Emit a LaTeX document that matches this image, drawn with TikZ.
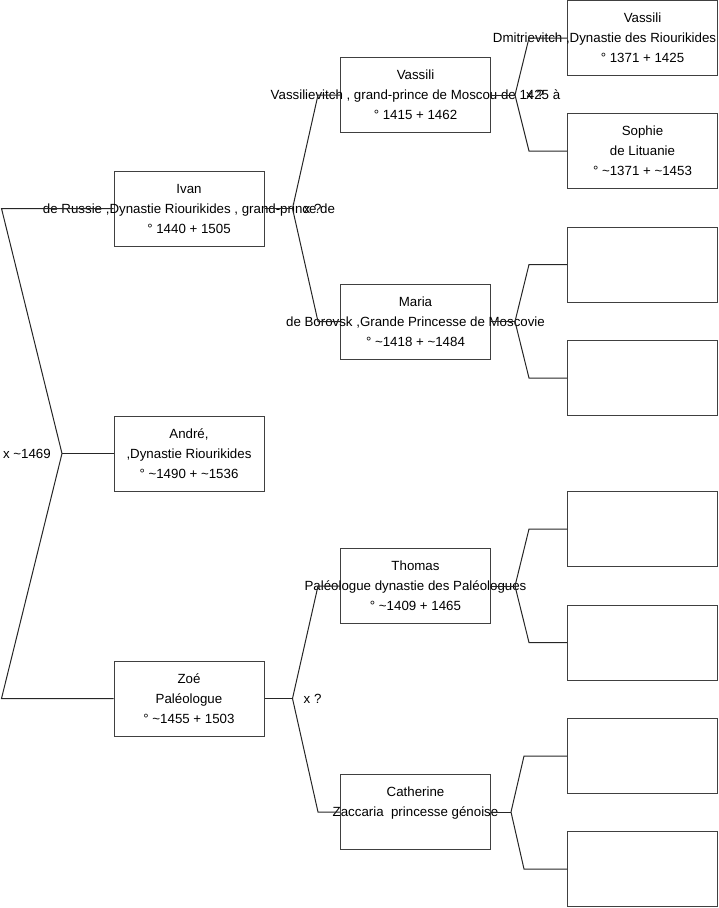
\documentclass[tikz,border=0pt]{standalone}
\usepackage{fontspec}
\setmainfont{Liberation Sans}
\usetikzlibrary{positioning}

\begin{document}
\begin{tikzpicture}[
  x=1pt,y=-1pt,
  every node/.style={font=\fontsize{13.3}{20}\selectfont},
  person/.style={draw=black!75,line width=1pt,minimum width=150pt,
                 minimum height=75pt,inner sep=0pt},
  ptext/.style={align=center,inner sep=0pt},
  link/.style={draw=black!85,line width=1pt},
  union/.style={inner sep=0pt},
]
\useasboundingbox (0,0) rectangle (719,908);

% generation 1: children
\node[person] (ivan)  at (189,208.5) {};
\node[person] (andre) at (189,453.5) {};
\node[person] (zoe)   at (189,698.5) {};
\node[ptext] (ivan-t)  at (ivan)  {Ivan\\de Russie ,Dynastie Riourikides , grand-prince de\\° 1440 + 1505};
\node[ptext] (andre-t) at (andre) {André,\\,Dynastie Riourikides\\° \textasciitilde1490 + \textasciitilde1536};
\node[ptext] (zoe-t)   at (zoe)   {Zoé\\Paléologue\\° \textasciitilde1455 + 1503};

% generation 2: parents
\node[person] (vassili)   at (415.5,95)    {};
\node[person] (maria)     at (415.5,321.5) {};
\node[person] (thomas)    at (415.5,586)   {};
\node[person] (catherine) at (415.5,812)   {};
\node[ptext] (vassili-t)   at (vassili)   {Vassili\\Vassilievitch , grand-prince de Moscou de 1425 à\\° 1415 + 1462};
\node[ptext] (maria-t)     at (maria)     {Maria\\de Borovsk ,Grande Princesse de Moscovie\\° \textasciitilde1418 + \textasciitilde1484};
\node[ptext] (thomas-t)    at (thomas)    {Thomas\\Paléologue dynastie des Paléologues\\° \textasciitilde1409 + 1465};
\node[ptext] (catherine-t) at (catherine) {Catherine\\Zaccaria~~princesse génoise\\\mbox{}};

% generation 3: grandparents
\node[person] (vdmitri)    at (642.5,38)    {};
\node[person] (sophie)     at (642.5,151)   {};
\node[person] (mariaF)     at (642.5,264.5) {};
\node[person] (mariaM)     at (642.5,378)   {};
\node[person] (thomasF)    at (642.5,529)   {};
\node[person] (thomasM)    at (642.5,642.5) {};
\node[person] (catherineF) at (642.5,756)   {};
\node[person] (catherineM) at (642.5,869)   {};
% middle line pushed left to stay on the page
\node[ptext] (vdmitri-t) at (vdmitri) {Vassili\\\makebox[0pt]{\hspace{-76pt}Dmitrievitch ,Dynastie des Riourikides}\\° 1371 + 1425};
\node[ptext] (sophie-t)  at (sophie)  {Sophie\\de Lituanie\\° \textasciitilde1371 + \textasciitilde1453};

% couple forks
\coordinate (fAndre)     at (62,453.5);
\coordinate (fIvan)      at ([xshift=28]ivan.east);
\coordinate (fZoe)       at ([xshift=28]zoe.east);
\coordinate (fVassili)   at ([xshift=24]vassili.east);
\coordinate (fMaria)     at ([xshift=24]maria.east);
\coordinate (fThomas)    at ([xshift=24]thomas.east);
\coordinate (fCatherine) at ([xshift=20]catherine.east);

\draw[link] (andre.west) -- (fAndre);
\draw[link] (fAndre) -- ([xshift=-112]ivan.west) -- (ivan.west);
\draw[link] (fAndre) -- ([xshift=-112]zoe.west) -- (zoe.west);

\draw[link] (ivan.east) -- (fIvan);
\draw[link] (fIvan) -- ([xshift=-22]vassili.west) -- (vassili.west);
\draw[link] (fIvan) -- ([xshift=-22]maria.west) -- (maria.west);

\draw[link] (zoe.east) -- (fZoe);
\draw[link] (fZoe) -- ([xshift=-22]thomas.west) -- (thomas.west);
\draw[link] (fZoe) -- ([xshift=-22]catherine.west) -- (catherine.west);

\draw[link] (vassili.east) -- (fVassili);
\draw[link] (fVassili) -- ([xshift=-38]vdmitri.west) -- (vdmitri.west);
\draw[link] (fVassili) -- ([xshift=-38]sophie.west) -- (sophie.west);

\draw[link] (maria.east) -- (fMaria);
\draw[link] (fMaria) -- ([xshift=-38]mariaF.west) -- (mariaF.west);
\draw[link] (fMaria) -- ([xshift=-38]mariaM.west) -- (mariaM.west);

\draw[link] (thomas.east) -- (fThomas);
\draw[link] (fThomas) -- ([xshift=-38]thomasF.west) -- (thomasF.west);
\draw[link] (fThomas) -- ([xshift=-38]thomasM.west) -- (thomasM.west);

\draw[link] (catherine.east) -- (fCatherine);
\draw[link] (fCatherine) -- ([xshift=-43]catherineF.west) -- (catherineF.west);
\draw[link] (fCatherine) -- ([xshift=-43]catherineM.west) -- (catherineM.west);

% marriage labels
\node[union,anchor=east] (uAndre)   at ([xshift=-11]fAndre)  {x \textasciitilde1469};
\node[union,anchor=west] (uIvan)    at ([xshift=11]fIvan)    {x ?};
\node[union,anchor=west] (uZoe)     at ([xshift=11]fZoe)     {x ?};
\node[union,anchor=west] (uVassili) at ([xshift=11]fVassili) {x ?};
\end{tikzpicture}
\end{document}
